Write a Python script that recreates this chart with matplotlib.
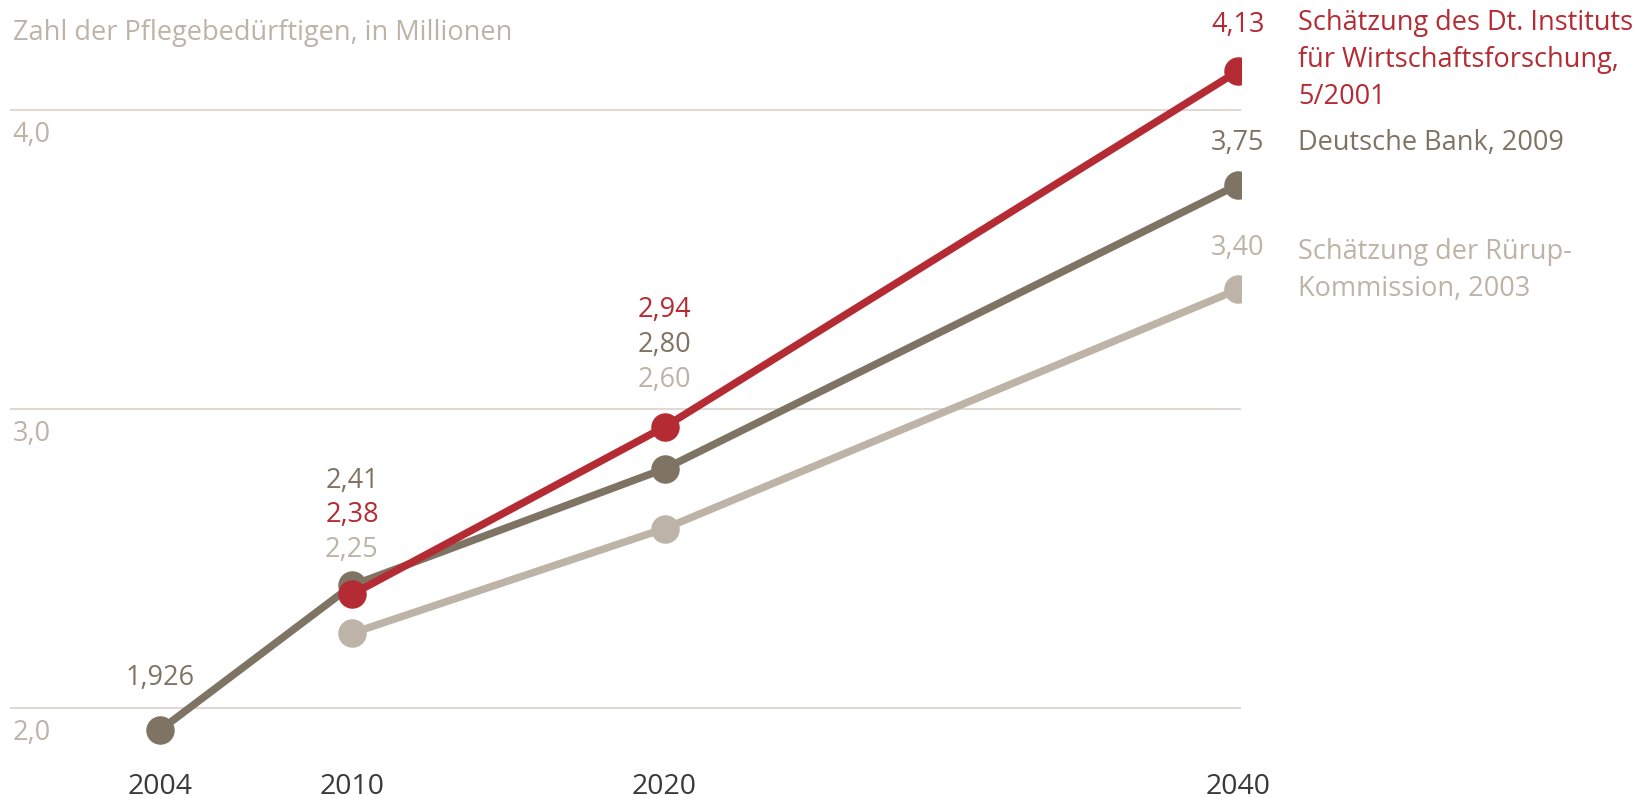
import numpy as np
import matplotlib
matplotlib.use("Agg")
import matplotlib.pyplot as plt

# data
years_diw = [2010, 2020, 2040]
vals_diw = [2.38, 2.94, 4.13]
labels_diw = ["2,38", "2,94", "4,13"]

years_db = [2004, 2010, 2020, 2040]
vals_db = [1.926, 2.41, 2.80, 3.75]
labels_db = ["1,926", "2,41", "2,80", "3,75"]

years_rurup = [2010, 2020, 2040]
vals_rurup = [2.25, 2.60, 3.40]
labels_rurup = ["2,25", "2,60", "3,40"]

tick_years = [2004, 2010, 2020, 2040]
ytick_vals = [2.0, 3.0, 4.0]
ytick_labels = ["2,0", "3,0", "4,0"]

title = "Zahl der Pflegebedürftigen, in Millionen"
name_diw = "Schätzung des Dt. Instituts\nfür Wirtschaftsforschung,\n5/2001"
name_db = "Deutsche Bank, 2009"
name_rurup = "Schätzung der Rürup-\nKommission, 2003"

RED = "#b52b33"
DARK = "#7f7363"
LIGHT = "#bdb3a7"
GRID = "#ddd6cf"
TICK = "#3a3a3a"

plt.rcParams['font.family'] = ['Open Sans', 'DejaVu Sans']
FS = 19.5

# the year axis is not linear in the original: piecewise-linear scale
kx = np.array([2004.0, 2010.0, 2020.0, 2040.0])
kt = np.array([0.0, 6.41, 16.85, 36.0])


def fwd(x):
    x = np.asarray(x, dtype=float)
    t = np.interp(x, kx, kt)
    sl = (kt[1] - kt[0]) / (kx[1] - kx[0])
    sr = (kt[-1] - kt[-2]) / (kx[-1] - kx[-2])
    t = np.where(x < kx[0], kt[0] + (x - kx[0]) * sl, t)
    t = np.where(x > kx[-1], kt[-1] + (x - kx[-1]) * sr, t)
    return t


def inv(t):
    t = np.asarray(t, dtype=float)
    x = np.interp(t, kt, kx)
    sl = (kx[1] - kx[0]) / (kt[1] - kt[0])
    sr = (kx[-1] - kx[-2]) / (kt[-1] - kt[-2])
    x = np.where(t < kt[0], kx[0] + (t - kt[0]) * sl, x)
    x = np.where(t > kt[-1], kx[-1] + (t - kt[-1]) * sr, x)
    return x


W, H = 1635, 798
fig = plt.figure(figsize=(W / 100, H / 100), dpi=100)
ax_left, ax_right = 10.4, 1241.0
ax = fig.add_axes([ax_left / W, 0, (ax_right - ax_left) / W, 1])
ax.set_xscale('function', functions=(fwd, inv))

px_per_t = (1238.0 - 160.0) / kt[-1]
ax.set_xlim(float(inv((ax_left - 160.0) / px_per_t)), float(inv((ax_right - 160.0) / px_per_t)))
# y: 4,0 at 110 px from top, 299 px per unit
ax.set_ylim(4 - (H - 110) / 299.0, 4 + 110 / 299.0)
ax.axis('off')

for v in ytick_vals:
    ax.axhline(v, color=GRID, lw=1.3, zorder=1)

lw = 5.4
ms = 19.5
ax.plot(years_rurup, vals_rurup, color=LIGHT, lw=lw, marker='o', ms=ms,
        solid_capstyle='round', zorder=2)
ax.plot(years_db, vals_db, color=DARK, lw=lw, marker='o', ms=ms,
        solid_capstyle='round', zorder=3)
ax.plot(years_diw, vals_diw, color=RED, lw=lw, marker='o', ms=ms,
        solid_capstyle='round', zorder=4)


def label_points(xs, ys, labels, color, offsets):
    for x, y, s, off in zip(xs, ys, labels, offsets):
        ax.annotate(s, xy=(x, y), xytext=(0, off), textcoords='offset pixels',
                    ha='center', va='center', color=color, fontsize=FS,
                    annotation_clip=False)


label_points(years_diw, vals_diw, labels_diw, RED, [79, 117, 46])
label_points(years_db, vals_db, labels_db, DARK, [52, 104, 124, 42])
label_points(years_rurup, vals_rurup, labels_rurup, LIGHT, [83, 149, 41])

# y tick labels sit under the gridlines at the left edge
for v, s in zip(ytick_vals, ytick_labels):
    ax.annotate(s, xy=(0, v), xycoords=('axes fraction', 'data'),
                xytext=(2, -25), textcoords='offset pixels',
                ha='left', va='center', color=LIGHT, fontsize=FS)

# year labels along the bottom
for yr in tick_years:
    ax.annotate(str(yr), xy=(yr, 0), xycoords=('data', 'figure pixels'),
                xytext=(0, H - 787), textcoords='offset pixels',
                ha='center', va='center', color=TICK, fontsize=20.5,
                fontweight='medium', annotation_clip=False)

fig.text(12.5 / W, 1 - 33 / H, title, ha='left', va='center',
         color=LIGHT, fontsize=FS)

# series names to the right
fig.text(1298 / W, 1 - 9 / H, name_diw, ha='left', va='top', color=RED,
         fontsize=FS, linespacing=1.42)
fig.text(1298 / W, 1 - 143 / H, name_db, ha='left', va='center', color=DARK,
         fontsize=FS)
fig.text(1298 / W, 1 - 238 / H, name_rurup, ha='left', va='top', color=LIGHT,
         fontsize=FS, linespacing=1.42)

fig.savefig("out.png", dpi=100, facecolor='white')
